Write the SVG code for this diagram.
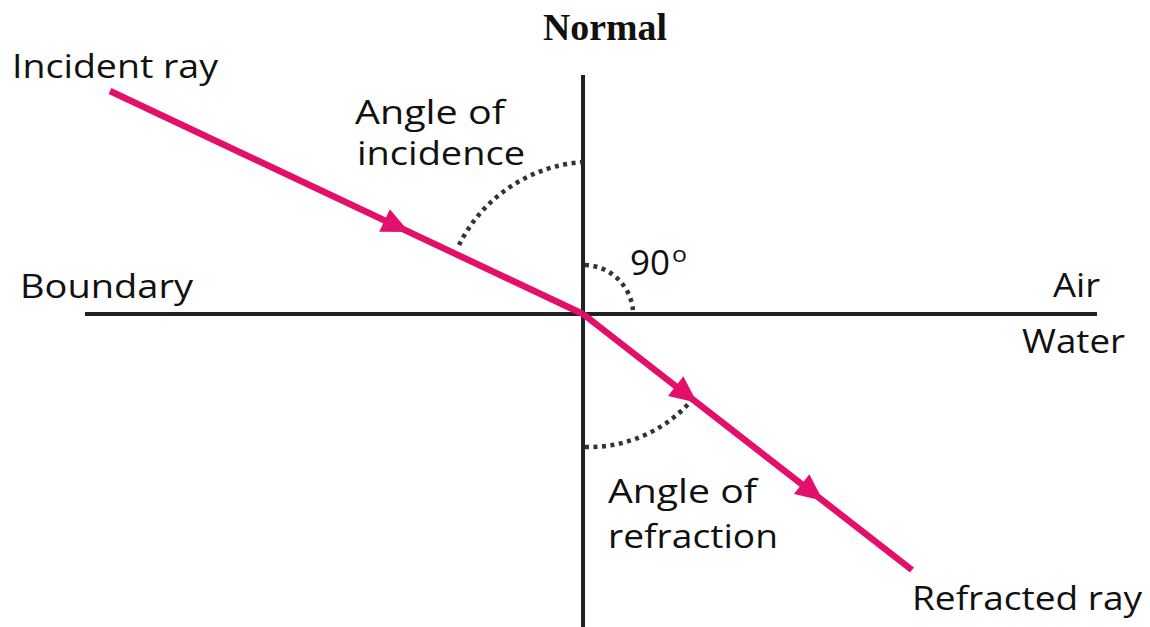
<svg xmlns="http://www.w3.org/2000/svg" xmlns:xlink="http://www.w3.org/1999/xlink" width="1150" height="627" viewBox="0 0 1150 627">
<style>
.axis{stroke:#222;stroke-width:4;fill:none}
.ray{stroke:#e2106a;stroke-width:6.5;fill:none;stroke-linecap:butt}
.dot{stroke:#333;stroke-width:4.5;fill:none;stroke-dasharray:4 4.5}
.lbl{font-family:"Open Sans","Noto Sans","Liberation Sans",sans-serif;font-size:33px;fill:#111}
.ttl{font-family:"Liberation Serif","Times New Roman",serif;font-size:37px;font-weight:bold;fill:#111}
</style>
<defs>
<polygon id="arrowhead" points="0,0 -27,-12.5 -27,12.5" fill="#e2106a"/>
</defs>
<rect width="1150" height="627" fill="#fff"/>
<g id="normal">
<line class="axis" x1="583" y1="75" x2="583" y2="627"/>
<text class="ttl" x="543" y="40" textLength="124" lengthAdjust="spacingAndGlyphs">Normal</text>
</g>
<g id="boundary">
<line class="axis" x1="85" y1="314" x2="1097" y2="314"/>
<text class="lbl" x="20" y="298" textLength="173" lengthAdjust="spacingAndGlyphs">Boundary</text>
<text class="lbl" x="1053" y="297" textLength="47" lengthAdjust="spacingAndGlyphs">Air</text>
<text class="lbl" x="1022" y="353" textLength="103" lengthAdjust="spacingAndGlyphs">Water</text>
</g>
<g id="angles">
<path class="dot" d="M459,245 A150,150 0 0 1 583,162"/>
<path class="dot" d="M585,265 A50,50 0 0 1 633,310"/>
<path class="dot" d="M585,447 A136,136 0 0 0 691,401"/>
<text class="lbl" x="355" y="124" textLength="150" lengthAdjust="spacingAndGlyphs">Angle of</text>
<text class="lbl" x="357" y="165" textLength="168" lengthAdjust="spacingAndGlyphs">incidence</text>
<text class="lbl" x="630" y="275" style="font-size:35px" textLength="40" lengthAdjust="spacingAndGlyphs">90</text>
<text class="lbl" x="672" y="262" style="font-size:22px" textLength="15" lengthAdjust="spacingAndGlyphs">o</text>
<text class="lbl" x="608" y="503" textLength="149" lengthAdjust="spacingAndGlyphs">Angle of</text>
<text class="lbl" x="608" y="548" textLength="170" lengthAdjust="spacingAndGlyphs">refraction</text>
</g>
<g id="connectors">
<line class="ray" x1="110" y1="91" x2="583" y2="314"/>
<line class="ray" x1="583" y1="314" x2="912" y2="570"/>
<use xlink:href="#arrowhead" transform="translate(409,232) rotate(25.2)"/>
<use xlink:href="#arrowhead" transform="translate(697,402.7) rotate(37.9)"/>
<use xlink:href="#arrowhead" transform="translate(823,500.7) rotate(37.9)"/>
</g>
<g id="incident-label">
<text class="lbl" x="12" y="78" textLength="206" lengthAdjust="spacingAndGlyphs">Incident ray</text>
</g>
<g id="refracted-label">
<text class="lbl" x="912" y="610" textLength="230" lengthAdjust="spacingAndGlyphs">Refracted ray</text>
</g>
</svg>
